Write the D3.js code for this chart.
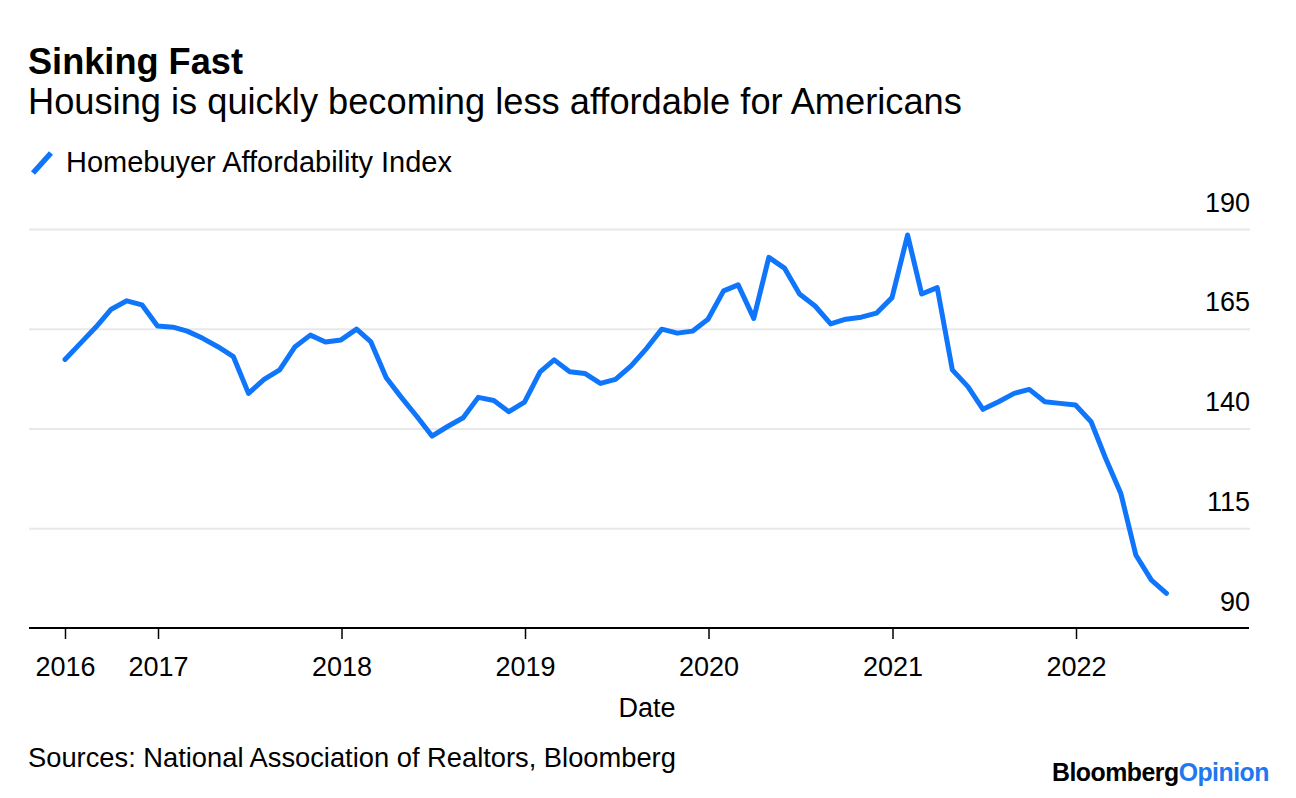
<!DOCTYPE html>
<html>
<head>
<meta charset="utf-8">
<script src="https://cdn.jsdelivr.net/npm/d3@7"></script>
<style>
  html, body { margin: 0; padding: 0; background: #fff; }
  svg { display: block; font-family: "Liberation Sans", Arial, Helvetica, sans-serif; }
</style>
</head>
<body>
<svg id="chart" width="1296" height="798"></svg>
<script>
// ---- Data ----
const months = [
  "2016-06","2016-07","2016-08","2016-09","2016-10","2016-11","2016-12",
  "2017-01","2017-02","2017-03","2017-04","2017-05","2017-06","2017-07","2017-08","2017-09","2017-10","2017-11","2017-12",
  "2018-01","2018-02","2018-03","2018-04","2018-05","2018-06","2018-07","2018-08","2018-09","2018-10","2018-11","2018-12",
  "2019-01","2019-02","2019-03","2019-04","2019-05","2019-06","2019-07","2019-08","2019-09","2019-10","2019-11","2019-12",
  "2020-01","2020-02","2020-03","2020-04","2020-05","2020-06","2020-07","2020-08","2020-09","2020-10","2020-11","2020-12",
  "2021-01","2021-02","2021-03","2021-04","2021-05","2021-06","2021-07","2021-08","2021-09","2021-10","2021-11","2021-12",
  "2022-01","2022-02","2022-03","2022-04","2022-05","2022-06"
];
const affordability = [
  157.3,161.4,165.5,169.9,172.0,171.0,165.7,
  165.4,164.4,162.6,160.5,158.0,148.8,152.3,154.7,160.4,163.4,161.7,162.2,
  164.9,161.8,152.7,147.8,143.0,138.1,140.5,142.7,147.8,147.0,144.2,146.6,
  154.2,157.2,154.2,153.8,151.3,152.3,155.7,160.1,164.9,163.9,164.4,167.4,
  174.5,176.0,167.6,182.9,180.2,173.7,170.7,166.2,167.4,167.9,168.9,172.8,
  188.5,173.7,175.3,154.7,150.5,144.8,146.7,148.8,149.8,146.7,146.3,145.9,
  141.7,132.8,123.8,108.3,102.0,98.7
];
const yTicks = [90, 115, 140, 165, 190];
const xTickDates = ["2016-06","2017-01-01","2018-01-01","2019-01-01","2020-01-01","2021-01-01","2022-01-01"];
const seriesName = "Homebuyer Affordability Index";
const titleText = "Sinking Fast";
const subtitleText = "Housing is quickly becoming less affordable for Americans";
const sourceText = "Sources: National Association of Realtors, Bloomberg";
const xAxisTitle = "Date";

// ---- Setup ----
const svg = d3.select("#chart");
const blue = "#0f76fc";
const parseMonth = d3.timeParse("%Y-%m");
const parseDay = d3.timeParse("%Y-%m-%d");
// month-end dates
const dates = months.map(m => d3.timeDay.offset(d3.timeMonth.offset(parseMonth(m), 1), -1));
const data = dates.map((d, i) => ({date: d, value: affordability[i]}));

const x = d3.scaleTime()
  .domain([parseDay("2016-06-30"), parseDay("2022-06-30")])
  .range([65, 1166.5]);
const y = d3.scaleLinear().domain([90, 190]).range([628, 229]);

const plotLeft = 29, plotRight = 1250;

function fit(sel, target) {
  const w = sel.node().getComputedTextLength();
  const fs = parseFloat(sel.attr("font-size"));
  sel.attr("font-size", fs * target / w);
}

// ---- Titles ----
svg.append("text").attr("x", 28).attr("y", 74)
  .attr("font-size", 32).attr("font-weight", "bold").attr("fill", "#000")
  .text(titleText).call(fit, 215);
svg.append("text").attr("x", 28).attr("y", 114)
  .attr("font-size", 30).attr("fill", "#000")
  .text(subtitleText).call(fit, 934);

// ---- Legend ----
svg.append("line").attr("x1", 33).attr("y1", 173).attr("x2", 51).attr("y2", 153)
  .attr("stroke", blue).attr("stroke-width", 5.5);
svg.append("text").attr("x", 66).attr("y", 172)
  .attr("font-size", 24).attr("fill", "#000")
  .text(seriesName).call(fit, 386);

// ---- Y grid + labels ----
const yAxis = svg.append("g").attr("transform", `translate(${plotLeft},0)`)
  .call(d3.axisRight(y).tickValues(yTicks).tickSize(plotRight - plotLeft).tickFormat(d3.format("d")));
yAxis.select(".domain").remove();
yAxis.selectAll(".tick line").attr("stroke", "#e8e8e8").attr("stroke-width", 2)
  .attr("display", d => d === 90 ? "none" : null);
yAxis.selectAll(".tick text")
  .attr("x", plotRight - plotLeft).attr("dy", -18).attr("text-anchor", "end")
  .attr("font-size", 27).attr("fill", "#000")
  .attr("font-family", "'Liberation Sans', Arial, sans-serif");

// ---- Line ----
const line = d3.line().x(d => x(d.date)).y(d => y(d.value)).curve(d3.curveLinear);
svg.append("path").datum(data)
  .attr("d", line).attr("fill", "none").attr("stroke", blue)
  .attr("stroke-width", 5).attr("stroke-linejoin", "round").attr("stroke-linecap", "round");

// ---- X axis ----
const xTickVals = xTickDates.map((s, i) => i === 0 ? dates[0] : parseDay(s));
const xAxis = svg.append("g").attr("transform", `translate(0,${y(90)})`)
  .call(d3.axisBottom(x).tickValues(xTickVals).tickSize(11).tickSizeOuter(0).tickPadding(18)
    .tickFormat(d3.timeFormat("%Y")));
xAxis.select(".domain").attr("d", `M${plotLeft},0H${plotRight - 1}`).attr("stroke", "#000").attr("stroke-width", 2);
xAxis.selectAll(".tick line").attr("stroke", "#000").attr("stroke-width", 1.5);
xAxis.selectAll(".tick text").attr("font-size", 27).attr("fill", "#000")
  .attr("font-family", "'Liberation Sans', Arial, sans-serif");

svg.append("text").attr("x", 647).attr("y", 717).attr("text-anchor", "middle")
  .attr("font-size", 27).attr("fill", "#000").text(xAxisTitle);

// ---- Footer ----
svg.append("text").attr("x", 28).attr("y", 767)
  .attr("font-size", 24).attr("fill", "#000")
  .text(sourceText).call(fit, 648);

const logo = svg.append("text").attr("x", 1052).attr("y", 781)
  .attr("font-size", 22).attr("font-weight", "bold").attr("letter-spacing", -0.5);
logo.append("tspan").attr("fill", "#000").text("Bloomberg");
logo.append("tspan").attr("fill", "#1e78f0").text("Opinion");
logo.call(fit, 216);
</script>
</body>
</html>
